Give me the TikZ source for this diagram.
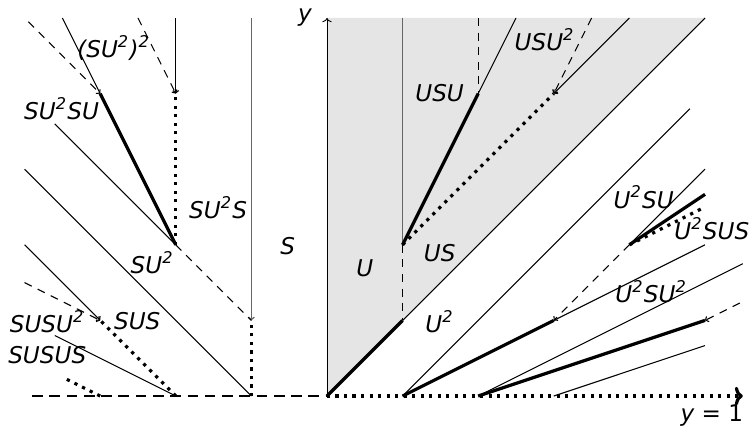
\documentclass[tikz,border=0pt]{standalone}
\usepackage{fontspec}
\setmainfont{DejaVu Sans}
\usetikzlibrary{arrows.meta}
\begin{document}
\begin{tikzpicture}[x=1cm,y=1cm,
  thinln/.style={line width=0.4pt,black},
  grayln/.style={line width=0.5pt,black!60},
  thickln/.style={line width=1.2pt,black},
  dotln/.style={line width=1.2pt,dotted,black},
  dashln/.style={line width=0.4pt,dash pattern=on 3pt off 2.5pt,black},
  tip/.style={-{Straight Barb[length=0.9pt,width=2.2pt]}},
  lbl/.style={font=\fontsize{8.7}{10}\selectfont\itshape,inner sep=0pt}]
\useasboundingbox (-4.325,-0.423) rectangle (5.595,5.238);
% coordinates
\coordinate (O) at (0,0);
\coordinate (xl) at (-3.9,0);
\coordinate (xr) at (5.5,0);
\coordinate (yt) at (0,5);
\coordinate (g55) at (5,5);
\coordinate (A10) at (1,0); \coordinate (A11) at (1,1); \coordinate (A12) at (1,2); \coordinate (A15) at (1,5);
\coordinate (A24) at (2,4); \coordinate (A25) at (2,5); \coordinate (A255) at (2.5,5);
\coordinate (A34) at (3,4); \coordinate (A355) at (3.5,5); \coordinate (A45) at (4,5);
\coordinate (A4838) at (4.8,3.8);
\coordinate (A31) at (3,1); \coordinate (A52) at (5,2); \coordinate (A42) at (4,2);
\coordinate (A53) at (5,3); \coordinate (A5267) at (5,2.667); \coordinate (A525) at (5,2.5);
\coordinate (A20) at (2,0); \coordinate (A5517) at (5.5,1.75); \coordinate (A51) at (5,1); \coordinate (A5512) at (5.46,1.23);
\coordinate (A30) at (3,0); \coordinate (A5067) at (5,0.667);
\coordinate (B10) at (-1,0); \coordinate (B11) at (-1,1); \coordinate (B15) at (-1,5);
\coordinate (B22) at (-2,2); \coordinate (B24) at (-2,4); \coordinate (B25) at (-2,5); \coordinate (B255) at (-2.5,5);
\coordinate (B34) at (-3,4); \coordinate (B355) at (-3.5,5); \coordinate (B45) at (-3.95,4.95);
\coordinate (B3636) at (-3.6,3.6); \coordinate (B43) at (-4,3);
\coordinate (B20) at (-2,0); \coordinate (B3608) at (-3.6,0.8);
\coordinate (B31) at (-3,1); \coordinate (B42) at (-4,2); \coordinate (B415) at (-4,1.5);
\coordinate (B30) at (-3,0); \coordinate (B35025) at (-3.5,0.25);
% grey region
\fill[black!10] (O) -- (yt) -- (g55) -- cycle;
% thin lines
\draw[thinln] (A11) -- (g55);
\draw[thinln] (A24) -- (A255);
\draw[thinln,tip] (A45) -- (A34);
\draw[thinln] (A10) -- (A4838);
\draw[thinln] (A31) -- (A52);
\draw[thinln] (A42) -- (A53);
\draw[thinln] (A20) -- (A5517);
\draw[thinln] (A30) -- (A5067);
\draw[thinln] (B10) -- (B43);
\draw[thinln] (B22) -- (B3636);
\draw[thinln] (B34) -- (B355);
\draw[thinln] (B20) -- (B3608);
\draw[thinln,tip] (B42) -- (B31);
\draw[grayln,tip] (B15) -- (B11);
\draw[grayln] (A15) -- (A12);
\draw[thinln,tip] (B25) -- (B24);
% dashed lines
\draw[line width=0.6pt,dash pattern=on 4pt off 2.5pt] (xl) -- (O);
\draw[dashln] (A12) -- (A11);
\draw[dashln] (A25) -- (A24);
\draw[dashln,tip] (A355) -- (A34);
\draw[dashln,tip] (A42) -- (A31);
\draw[dashln,tip] (A5512) -- (A51);
\draw[dashln] (B22) -- (B11);
\draw[dashln,tip] (B255) -- (B24);
\draw[dashln,tip] (B45) -- (B34);
\draw[dashln,tip] (B415) -- (B31);
% dotted lines
\draw[dotln] (A12) -- (A34);
\draw[dotln] (A42) -- (A525);
\draw[dotln] (B10) -- (B11);
\draw[dotln] (B22) -- (B24);
\draw[dotln] (B20) -- (B31);
\draw[dotln] (B30) -- (B35025);
\draw[dotln,-{To[length=3pt,width=7pt]}] (O) -- (xr);
% thick lines
\draw[thickln] (O) -- (A11);
\draw[thickln] (A12) -- (A24);
\draw[thickln] (A10) -- (A31);
\draw[thickln] (A42) -- (A5267);
\draw[thickln] (A20) -- (A51);
\draw[thickln] (B22) -- (B34);
% y axis
\draw[line width=0.35pt,-{To[length=1.6pt,width=3.5pt]}] (O) -- (yt);
% labels
\node[lbl] (ly) at (-0.29,5.0) {y};
\node[lbl] (lx) at (5.09,-0.26) {y {\upshape = 1}};
\node[lbl] (lS) at (-0.52,1.98) {S};
\node[lbl] (lU) at (0.50,1.69) {U};
\node[lbl] (lUS) at (1.49,1.89) {US};
\node[lbl] (lU2) at (1.49,0.98) {U\textsuperscript{2}};
\node[lbl] (lUSU) at (1.49,4.01) {USU};
\node[lbl] (lUSU2) at (2.88,4.71) {USU\textsuperscript{2}};
\node[lbl] (lU2SU) at (4.19,2.63) {U\textsuperscript{2}SU};
\node[lbl] (lU2SUS) at (5.09,2.21) {U\textsuperscript{2}SUS};
\node[lbl] (lU2SU2) at (4.29,1.38) {U\textsuperscript{2}SU\textsuperscript{2}};
\node[lbl] (lSU2S) at (-1.44,2.49) {SU\textsuperscript{2}S};
\node[lbl] (lSU2) at (-2.31,1.76) {SU\textsuperscript{2}};
\node[lbl] (lSUS) at (-2.51,0.99) {SUS};
\node[lbl] (lSUSU2) at (-3.70,0.98) {SUSU\textsuperscript{2}};
\node[lbl] (lSUSUS) at (-3.70,0.54) {SUSUS};
\node[lbl] (lSU2SU) at (-3.51,3.80) {SU\textsuperscript{2}SU};
\node[lbl] (lSU22) at (-2.82,4.60) {(SU\textsuperscript{2})\textsuperscript{2}};
\end{tikzpicture}
\end{document}
